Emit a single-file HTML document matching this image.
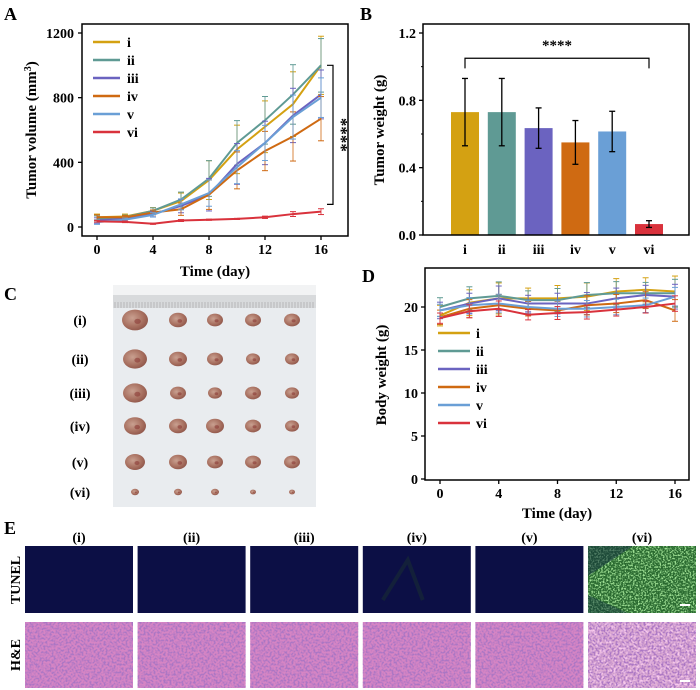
<!DOCTYPE html>
<html><head><meta charset="utf-8">
<style>
html,body{margin:0;padding:0;background:#fff;}
svg{display:block;font-family:"Liberation Serif",serif;font-weight:bold;}
</style></head>
<body>
<svg id="fig" width="700" height="690" viewBox="0 0 700 690" xmlns="http://www.w3.org/2000/svg">
<defs>
<filter id="he" x="0" y="0" width="100%" height="100%">
<feTurbulence type="fractalNoise" baseFrequency="0.5" numOctaves="2" seed="3" result="n"/>
<feColorMatrix in="n" type="matrix" values="0 0 0 0 0.4  0 0 0 0 0.18  0 0 0 0 0.55  0 0 0 4 -1.7" result="c"/>
<feComposite in="c" in2="SourceGraphic" operator="in"/>
</filter>
<filter id="he2" x="0" y="0" width="100%" height="100%">
<feTurbulence type="fractalNoise" baseFrequency="0.3" numOctaves="2" seed="11" result="n"/>
<feColorMatrix in="n" type="matrix" values="0 0 0 0 0.95  0 0 0 0 0.6  0 0 0 0 0.85  0 0 0 4 -1.8" result="c"/>
<feComposite in="c" in2="SourceGraphic" operator="in"/>
</filter>
<filter id="gn" x="0" y="0" width="100%" height="100%">
<feTurbulence type="fractalNoise" baseFrequency="0.6" numOctaves="2" seed="7" result="n"/>
<feColorMatrix in="n" type="matrix" values="0 0 0 0 0.35  0 0 0 0 0.75  0 0 0 0 0.3  0 0 0 4 -1.8" result="c"/>
<feComposite in="c" in2="SourceGraphic" operator="in"/>
</filter>
<radialGradient id="tg" cx="0.4" cy="0.4" r="0.7">
<stop offset="0" stop-color="#c9a090"/><stop offset="0.6" stop-color="#a87060"/><stop offset="1" stop-color="#8a5045"/>
</radialGradient>
</defs>
<g id="gA"></g>
<g id="gB"></g>
<g id="gC"></g>
<g id="gD"></g>
<g id="gE"></g>
</svg>
<script>
const days=[0,2,4,6,8,10,12,14,16];
const groups=["i","ii","iii","iv","v","vi"];
const colors=["#d4a112","#5f9a94","#6b63c0","#cf6a12","#6a9fd6","#d9323c"];
const volI=[60,65,100,160,290,480,620,760,1000];
const volII=[50,60,100,170,300,520,660,820,1000];
const volIII=[40,50,80,130,200,390,520,690,820];
const volIV=[60,60,90,110,200,350,470,560,670];
const volV=[30,45,75,140,210,370,520,680,800];
const volVI=[35,32,20,40,45,50,60,80,95];
const volErr=[20,15,20,50,120,150,160,200,180];
const volErrVI=[8,8,6,10,6,6,12,25,30];
const weightVals=[0.73,0.73,0.635,0.55,0.615,0.065];
const weightErr=[0.2,0.2,0.12,0.13,0.12,0.02];
const bwI=[19.0,20.5,21.0,21.0,21.0,21.2,21.8,22.0,21.8];
const bwII=[20.0,21.0,21.3,20.8,20.8,21.4,21.6,21.6,21.6];
const bwIII=[19.6,20.4,21.0,20.4,20.4,20.4,21.0,21.4,21.2];
const bwIV=[18.8,19.8,20.2,19.8,19.6,20.2,20.4,20.8,19.6];
const bwV=[19.6,20.2,20.4,20.0,19.8,19.8,20.0,20.2,21.2];
const bwVI=[18.7,19.5,19.8,19.1,19.3,19.4,19.7,20.0,20.4];
const bwErr=[1.2,1.5,1.8,1.2,1.5,1.6,1.5,1.4,1.8];
const volTicks=[0,400,800,1200];
const dayTicks=[0,4,8,12,16];
const wTicks=[0,0.4,0.8,1.2];
const bwTicks=[0,5,10,15,20];

const NS="http://www.w3.org/2000/svg";
function el(p,tag,attrs,txt){const e=document.createElementNS(NS,tag);for(const k in attrs)e.setAttribute(k,attrs[k]);if(txt!==undefined)e.textContent=txt;p.appendChild(e);return e;}

// ---------- Panel A ----------
(function(){
const g=document.getElementById('gA');
const xA=d=>97+d*14, yA=v=>227-v*194/1200;
let t=el(g,'text',{x:4,y:20,'font-size':18},'A');

let f=el(g,'rect',{x:82,y:24,width:266,height:212,fill:'none',stroke:'#000','stroke-width':1.5});

volTicks.forEach(v=>{el(g,'line',{x1:82,x2:78,y1:yA(v),y2:yA(v),stroke:'#000','stroke-width':1.3});
 let tx=el(g,'text',{x:74,y:yA(v)+5,'font-size':14,'text-anchor':'end'},v);
 });
dayTicks.forEach(d=>{el(g,'line',{x1:xA(d),x2:xA(d),y1:236,y2:240,stroke:'#000','stroke-width':1.3});
 let tx=el(g,'text',{x:xA(d),y:254,'font-size':14,'text-anchor':'middle'},d);
 });
let xt=el(g,'text',{x:215,y:276,'font-size':15,'text-anchor':'middle'},'Time (day)');

let yt=el(g,'text',{x:0,y:0,'font-size':15,'text-anchor':'middle',transform:'translate(36,130) rotate(-90)'});

yt.innerHTML='Tumor volume (mm<tspan dy="-5" font-size="10">3</tspan><tspan dy="5">)</tspan>';
const series=[volI,volII,volIII,volIV,volV,volVI];
series.forEach((s,k)=>{
 const err=k===5?volErrVI:volErr;
 s.forEach((v,i)=>{const e=err[i]*(1-k*0.08);
  el(g,'line',{x1:xA(days[i]),x2:xA(days[i]),y1:yA(v-e),y2:yA(v+e),stroke:colors[k],'stroke-width':1,opacity:0.8});
  el(g,'line',{x1:xA(days[i])-3,x2:xA(days[i])+3,y1:yA(v+e),y2:yA(v+e),stroke:colors[k],'stroke-width':1});
  el(g,'line',{x1:xA(days[i])-3,x2:xA(days[i])+3,y1:yA(v-e),y2:yA(v-e),stroke:colors[k],'stroke-width':1});});
 const p=el(g,'polyline',{points:s.map((v,i)=>xA(days[i])+','+yA(v)).join(' '),fill:'none',stroke:colors[k],'stroke-width':2});
 
 const ly=42+k*18;
 el(g,'line',{x1:93,x2:120,y1:ly,y2:ly,stroke:colors[k],'stroke-width':2.5});
 const lt=el(g,'text',{x:127,y:ly+5,'font-size':14},groups[k]);
 
});
el(g,'polyline',{points:`327,${yA(1000)} 333,${yA(1000)} 333,${yA(140)} 327,${yA(140)}`,fill:'none',stroke:'#000','stroke-width':1.2});
let st=el(g,'text',{x:0,y:0,'font-size':17,'text-anchor':'middle',transform:`translate(336,${yA(570)}) rotate(90)`},'****');

})();

// ---------- Panel B ----------
(function(){
const g=document.getElementById('gB');
const yB=v=>235-v*(235-33)/1.2, xB=i=>465+i*36.8;
let t=el(g,'text',{x:360,y:20,'font-size':18},'B');

wTicks.forEach(v=>{el(g,'line',{x1:423,x2:419,y1:yB(v),y2:yB(v),stroke:'#000','stroke-width':1.3});
 let tx=el(g,'text',{x:416,y:yB(v)+5,'font-size':14,'text-anchor':'end'},v.toFixed(1));
 });
[0.2,0.6,1.0].forEach(v=>el(g,'line',{x1:423,x2:421,y1:yB(v),y2:yB(v),stroke:'#000'}));
weightVals.forEach((v,i)=>{
 const b=el(g,'rect',{x:xB(i)-14,y:yB(v),width:28,height:yB(0)-yB(v),fill:colors[i]});
 
 const e=weightErr[i];
 el(g,'line',{x1:xB(i),x2:xB(i),y1:yB(v-e),y2:yB(v+e),stroke:'#000','stroke-width':1.3});
 el(g,'line',{x1:xB(i)-3,x2:xB(i)+3,y1:yB(v+e),y2:yB(v+e),stroke:'#000','stroke-width':1.3});
 el(g,'line',{x1:xB(i)-3,x2:xB(i)+3,y1:yB(v-e),y2:yB(v-e),stroke:'#000','stroke-width':1.3});
 const lt=el(g,'text',{x:xB(i),y:254,'font-size':14,'text-anchor':'middle'},groups[i]);
 
});
let f=el(g,'rect',{x:423,y:24,width:266,height:211,fill:'none',stroke:'#000','stroke-width':1.5});

el(g,'polyline',{points:`${xB(0)},${yB(0.99)} ${xB(0)},${yB(1.05)} ${xB(5)},${yB(1.05)} ${xB(5)},${yB(0.99)}`,fill:'none',stroke:'#000','stroke-width':1.2});
let st=el(g,'text',{x:(xB(0)+xB(5))/2,y:50,'font-size':15,'text-anchor':'middle'},'****');

let yt=el(g,'text',{x:0,y:0,'font-size':15,'text-anchor':'middle',transform:'translate(384,130) rotate(-90)'},'Tumor weight (g)');

})();

// ---------- Panel C ----------
(function(){
const g=document.getElementById('gC');
let t=el(g,'text',{x:4,y:300,'font-size':18},'C');

let ph=el(g,'rect',{x:113,y:285,width:203,height:222,fill:'#e9ecef'});

el(g,'rect',{x:113,y:285,width:203,height:10,fill:'#f2f3f4'});
el(g,'rect',{x:113,y:295,width:203,height:13,fill:'#d8dadc'});
for(let x=115;x<316;x+=3)el(g,'line',{x1:x,x2:x,y1:302,y2:308,stroke:'#a0a0a0','stroke-width':0.6});
const rowsY=[320,359,393,426,462,492],colsX=[135,178,215,253,292];
const sizes=[[13,9,8,8,8],[12,9,8,7,7],[12,8,7,8,7],[11,9,9,8,7],[10,9,8,8,8],[4,4,4,3,3]];
const labels=["(i)","(ii)","(iii)","(iv)","(v)","(vi)"];
rowsY.forEach((y,r)=>{
 const lt=el(g,'text',{x:80,y:y+5,'font-size':14,'text-anchor':'middle'},labels[r]);
 
 colsX.forEach((x,c)=>{const s=sizes[r][c];
  const e=el(g,'ellipse',{cx:x,cy:y,rx:s,ry:s*0.8,fill:'url(#tg)'});
  
  el(g,'ellipse',{cx:x+s*0.2,cy:y+s*0.1,rx:s*0.25,ry:s*0.2,fill:'#8a3a35',opacity:0.6});});
});
})();

// ---------- Panel D ----------
(function(){
const g=document.getElementById('gD');
const xD=d=>440+d*(675-440)/16, yD=v=>479-v*(479-307)/20;
let t=el(g,'text',{x:362,y:282,'font-size':18},'D');

let f=el(g,'rect',{x:425,y:268,width:264,height:212,fill:'none',stroke:'#000','stroke-width':1.5});

bwTicks.forEach(v=>{el(g,'line',{x1:425,x2:421,y1:yD(v),y2:yD(v),stroke:'#000','stroke-width':1.3});
 let tx=el(g,'text',{x:418,y:yD(v)+5,'font-size':14,'text-anchor':'end'},v);
 });
dayTicks.forEach(d=>{el(g,'line',{x1:xD(d),x2:xD(d),y1:480,y2:484,stroke:'#000','stroke-width':1.3});
 let tx=el(g,'text',{x:xD(d),y:498,'font-size':14,'text-anchor':'middle'},d);
 });
let xt=el(g,'text',{x:557,y:518,'font-size':15,'text-anchor':'middle'},'Time (day)');

let yt=el(g,'text',{x:0,y:0,'font-size':15,'text-anchor':'middle',transform:'translate(386,375) rotate(-90)'},'Body weight (g)');

const series=[bwI,bwII,bwIII,bwIV,bwV,bwVI];
series.forEach((s,k)=>{
 s.forEach((v,i)=>{const e=bwErr[i]*(1-k*0.1);
  el(g,'line',{x1:xD(days[i]),x2:xD(days[i]),y1:yD(v-e),y2:yD(v+e),stroke:colors[k],'stroke-width':1,opacity:0.8});
  el(g,'line',{x1:xD(days[i])-3,x2:xD(days[i])+3,y1:yD(v+e),y2:yD(v+e),stroke:colors[k],'stroke-width':1});
  el(g,'line',{x1:xD(days[i])-3,x2:xD(days[i])+3,y1:yD(v-e),y2:yD(v-e),stroke:colors[k],'stroke-width':1});});
 const p=el(g,'polyline',{points:s.map((v,i)=>xD(days[i])+','+yD(v)).join(' '),fill:'none',stroke:colors[k],'stroke-width':2});
 
 const ly=333+k*18;
 el(g,'line',{x1:438,x2:470,y1:ly,y2:ly,stroke:colors[k],'stroke-width':2.5});
 const lt=el(g,'text',{x:476,y:ly+5,'font-size':14},groups[k]);
 
});
})();

// ---------- Panel E ----------
(function(){
const g=document.getElementById('gE');
let t=el(g,'text',{x:4,y:534,'font-size':18},'E');

const labels=["(i)","(ii)","(iii)","(iv)","(v)","(vi)"];
let r1=el(g,'text',{x:0,y:0,'font-size':14,'text-anchor':'middle',transform:'translate(20,580) rotate(-90)'},'TUNEL');

let r2=el(g,'text',{x:0,y:0,'font-size':14,'text-anchor':'middle',transform:'translate(20,655) rotate(-90)'},'H&E');

for(let k=0;k<6;k++){
 const x=25+k*112.6;
 const lt=el(g,'text',{x:x+54,y:542,'font-size':14,'text-anchor':'middle'},labels[k]);
 
 const tu=el(g,'rect',{x:x,y:546,width:108,height:67,fill:k===5?'#2a6a30':'#0c0f45'});
 
 if(k===5){el(g,'rect',{x:x,y:546,width:108,height:67,fill:'#fff',filter:'url(#gn)'});
  el(g,'polygon',{points:`${x},${546+30} ${x+45},${546} ${x},${546}`,fill:'#123040',opacity:0.55});
  el(g,'polygon',{points:`${x},${613} ${x+40},${613} ${x},${595}`,fill:'#123040',opacity:0.45});
  el(g,'rect',{x:x+92,y:604,width:10,height:2,fill:'#fff'});}
 if(k===3){el(g,'path',{d:`M${x+20},${600} L${x+45},${560} L${x+60},${600}`,stroke:'#1f3a2a','stroke-width':4,fill:'none',opacity:0.4});}
 const he=el(g,'rect',{x:x,y:622,width:108,height:66,fill:k===5?'#dcaad2':'#d685c4'});
 
 if(k===5)el(g,'rect',{x:x,y:622,width:108,height:66,fill:'#fff',filter:'url(#he2)'});
 el(g,'rect',{x:x,y:622,width:108,height:66,fill:'#fff',filter:'url(#he)'});
 if(k===5)el(g,'rect',{x:x+92,y:680,width:10,height:2,fill:'#fff'});
}
})();
</script>
</body></html>
